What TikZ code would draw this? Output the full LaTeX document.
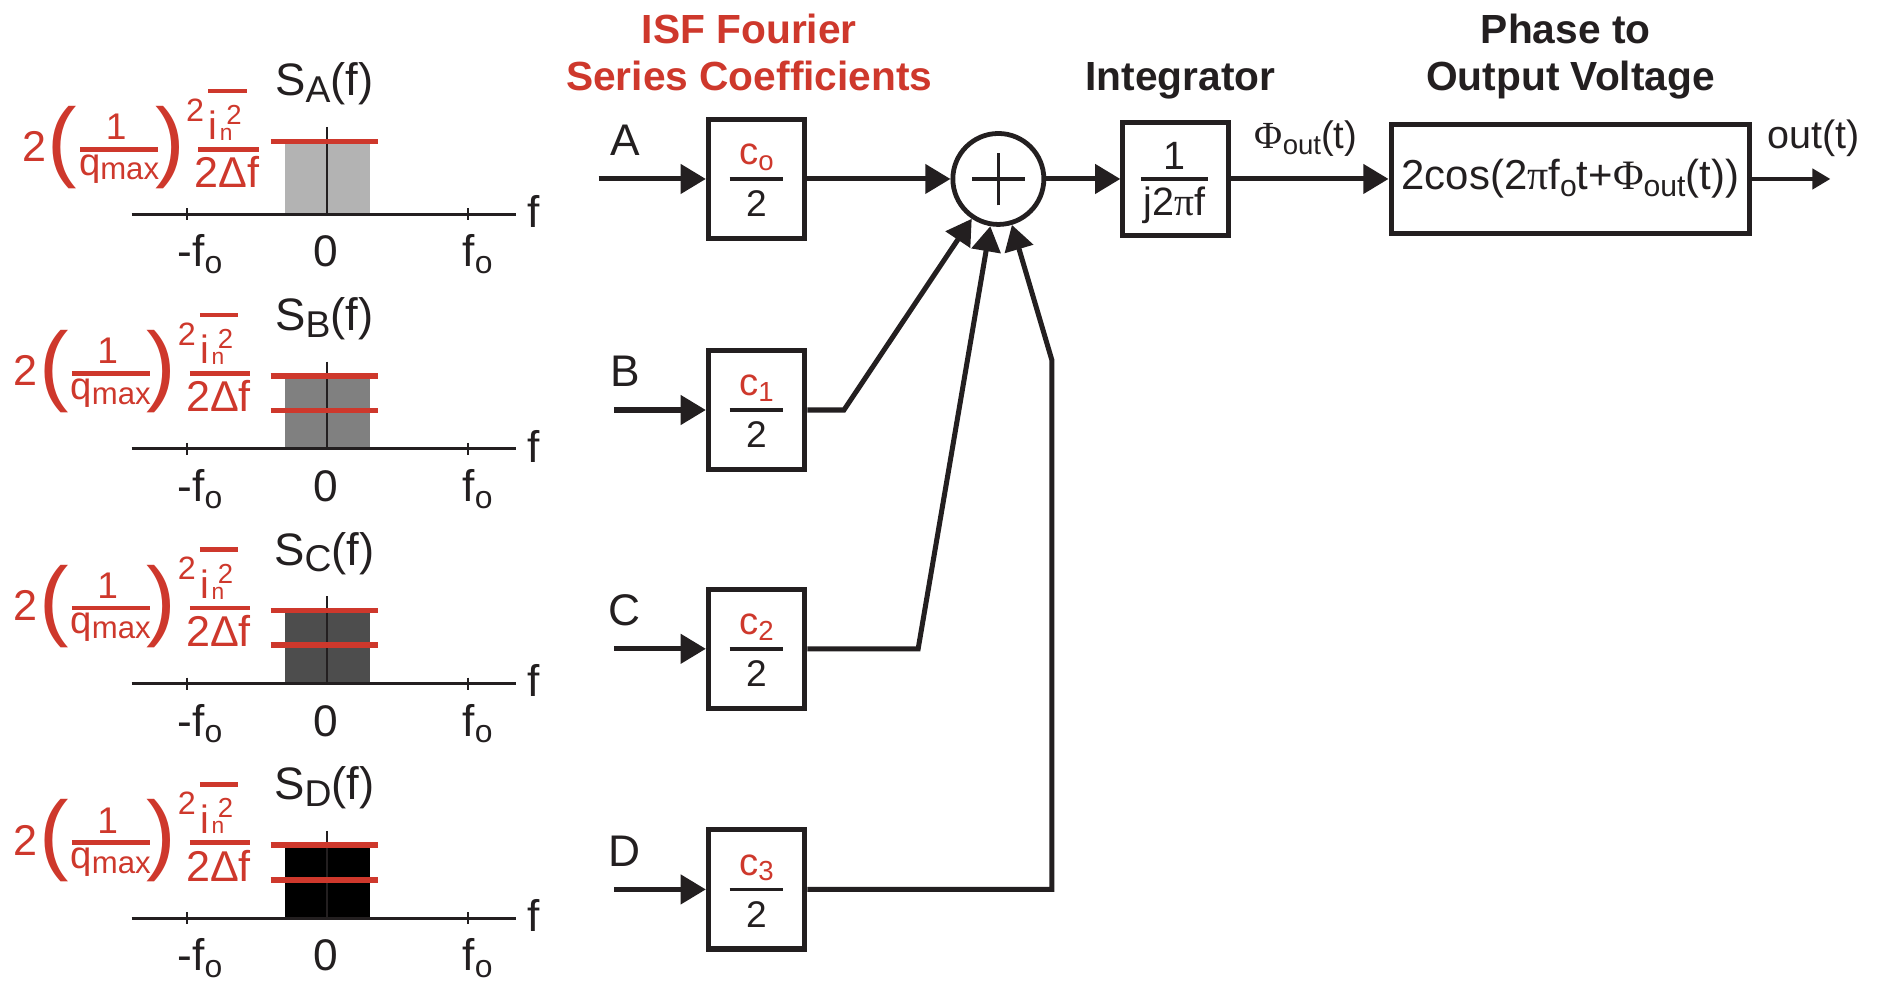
\documentclass[tikz,border=0pt]{standalone}
\usepackage{fontspec}
\setmainfont{Liberation Sans}
\newfontfamily\grk{Liberation Serif}
\usepackage{graphicx}
\usetikzlibrary{arrows.meta}
\definecolor{ink}{RGB}{35,31,32}
\definecolor{isfred}{RGB}{206,56,44}
\definecolor{barA}{RGB}{179,179,179}
\definecolor{barB}{RGB}{128,128,128}
\definecolor{barC}{RGB}{77,77,77}
\definecolor{barD}{RGB}{0,0,0}
\newcommand\fsz[1]{\fontsize{#1}{#1}\selectfont}
\newcommand\lsub[2][0.72]{\raisebox{-0.15em}{\scalebox{#1}{#2}}}
\begin{document}
\begin{tikzpicture}[x=1pt,y=-1pt,
  every node/.style={inner sep=0pt,outer sep=0pt,text=ink},
  sig/.style={draw=ink,line width=4.2pt,-{Triangle[length=21pt,width=24pt]}},
  sigo/.style={draw=ink,line width=3pt,-{Triangle[length=15pt,width=17pt]}},
  cbox/.style={draw=ink,line width=4.2pt,outer sep=2.1pt,minimum width=80.5pt,minimum height=99.5pt},
  fbar/.style={draw=ink,line width=3.2pt},
  plusl/.style={draw=ink,line width=2.6pt},
  axl/.style={draw=ink,line width=2.4pt},
  zl/.style={draw=ink,line width=1.6pt},
  tk/.style={draw=ink,line width=1.8pt},
  redl/.style={draw=isfred,line width=4.6pt},
  rbar/.style={draw=isfred,line width=3.8pt},
  lbl/.style={font=\fsz{37}},
  ttl/.style={font=\bfseries\fsz{34}},
  rtxt/.style={text=isfred},
]
\useasboundingbox (0,0) rectangle (1568,820);

% ---------- spectrum panels ----------
\foreach \k/\ay/\col/\lab/\dx/\dy/\two in {a/179/barA/A/0/54.2/0, b/375/barB/B/-7/63/1, c/571/barC/C/-7/63/1, d/767/barD/D/-7/63/1}{
  \pgfmathsetmacro\xf{273+\dx}
  \pgfmathsetmacro\yb{\ay-\dy}
  \fill[\col] (238,\ay-61) rectangle (309,\ay);
  \draw[axl] (110,\ay) -- (431,\ay);
  \draw[tk] (156,\ay-5) -- (156,\ay+5);
  \draw[tk] (391,\ay-5) -- (391,\ay+5);
  \draw[zl] (273,\ay-73) -- (273,\ay);
  \draw[redl] (226,\ay-61) -- (316,\ay-61);
  \ifnum\two=1 \draw[redl] (226,\ay-32) -- (316,\ay-32); \fi
  \node[font=\fsz{38},anchor=base] (S\k) at (271,\ay-99) {S\lsub[0.82]{\lab}(f)};
  \node[lbl,anchor=base] (m\k) at (167,\ay+44) {-f\lsub{o}};
  \node[lbl,anchor=base] (z\k) at (272,\ay+44) {0};
  \node[lbl,anchor=base] (p\k) at (399,\ay+44) {f\lsub{o}};
  \node[lbl,anchor=base] (f\k) at (446,\ay+11) {f};
  % formula
  \node[rtxt,font=\fsz{36}] (ftwo\k) at (\xf-244.5,\yb-2.2) {2};
  \node[rtxt,font=\fsz{74}] (lp\k) at (\xf-220.7,\yb-1.6) {(};
  \node[rtxt,font=\fsz{74}] (rp\k) at (\xf-131,\yb-1.6) {)};
  \node[rtxt,font=\fsz{31},anchor=base] (one\k) at (\xf-176,\yb-8) {1};
  \draw[rbar] (\xf-206,\yb) -- (\xf-141,\yb);
  \node[rtxt,font=\fsz{32},anchor=base west] (q\k) at (\xf-207,\yb+21.5) {q\raisebox{-4pt}{\fsz{26}max}};
  \node[rtxt,font=\fsz{27}] (sq\k) at (\xf-110,\yb-33) {2};
  \node[rtxt,font=\fsz{33},anchor=base] (ii\k) at (\xf-95,\yb-8) {i};
  \node[rtxt,font=\fsz{19},anchor=base] (nn\k) at (\xf-84,\yb-7.5) {n};
  \node[rtxt,font=\fsz{23}] (ss\k) at (\xf-77.5,\yb-29) {2};
  \draw[rbar] (\xf-99,\yb-48.8) -- (\xf-67,\yb-48.8);
  \draw[rbar] (\xf-107.3,\yb) -- (\xf-57,\yb);
  \node[rtxt,font=\fsz{36},anchor=north] (df\k) at (\xf-83.5,\yb+6) {2Δf};
}

% ---------- titles ----------
\node[ttl,rtxt,anchor=base] (t1) at (626,36) {ISF Fourier};
\node[ttl,rtxt,anchor=base] (t2) at (626,76) {Series Coefficients};
\node[ttl,anchor=base] (t3) at (986,76) {Integrator};
\node[ttl,anchor=base] (t4) at (1308,36) {Phase to};
\node[ttl,anchor=base] (t5) at (1312,76) {Output Voltage};

% ---------- coefficient boxes ----------
\foreach \k/\yy/\cc/\LL/\xs in {a/149.5/o/A/500, b/342.5/1/B/513, c/542/2/C/513, d/743/3/D/513}{
  \node[cbox] (box\k) at (632,\yy) {};
  \node[rtxt,font=\fsz{32},anchor=base] (num\k) at (632,\yy-12) {c\lsub{\cc}};
  \draw[fbar] (609.5,\yy) -- (654.5,\yy);
  \node[font=\fsz{31},anchor=north] (den\k) at (632,\yy+10) {2};
  \coordinate (src\k) at (\xs,\yy);
  \draw[sig] (src\k) -- (box\k.west);
  \node[lbl,anchor=base] (lab\k) at (522,\yy-19.5) {\LL};
}

% ---------- summer ----------
\node[circle,draw=ink,line width=4pt,minimum size=76pt,outer sep=2pt] (sum) at (834,149.5) {};
\draw[plusl] ([xshift=-22pt]sum.center) -- ([xshift=22pt]sum.center);
\draw[plusl] ([yshift=-22pt]sum.center) -- ([yshift=22pt]sum.center);

\draw[sig] (boxa.east) -- (sum.west);
\coordinate (kb) at (705,342.5);
\draw[sig] (boxb.east) -- (kb) -- (sum);
\coordinate (kc) at (767,542);
\draw[sig] (boxc.east) -- (kc) -- (sum);
\coordinate (kd1) at (878.7,743);
\coordinate (kd2) at (878.7,300.8);
\draw[sig] (boxd.east) -- (kd1) -- (kd2) -- (sum);

% ---------- integrator ----------
\node[cbox,minimum width=88pt,minimum height=94pt] (intg) at (982,149.5) {};
\node[font=\fsz{33},anchor=base] (ione) at (981,141.5) {1};
\draw[fbar] (953,149.5) -- (1009,149.5);
\node[font=\fsz{33},anchor=north] (iden) at (981,156) {j2{\grk π}f};
\draw[sig] (sum.east) -- (intg.west);

% ---------- phase to voltage ----------
\node[cbox,minimum width=299.5pt,minimum height=91pt,font=\fsz{35}] (ph) at (1311.8,149.5) {2cos(2{\grk π}f\lsub{o}t+{\grk Φ}\lsub{out}(t))};
\draw[sig] (intg.east) -- (ph.west);
\node[font=\fsz{32},anchor=base] (phil) at (1091,124) {{\grk Φ}\lsub{out}(t)};
\coordinate (outp) at (1529,149.5);
\draw[sigo] (ph.east) -- (outp);
\node[font=\fsz{33},anchor=base] (outl) at (1515,124) {out(t)};
\end{tikzpicture}
\end{document}
